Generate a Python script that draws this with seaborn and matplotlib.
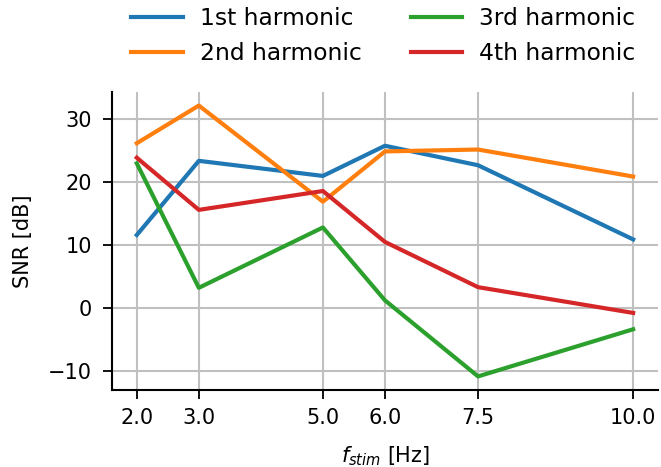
import pandas as pd
import matplotlib
matplotlib.use("Agg")
import matplotlib.pyplot as plt
import seaborn as sns

f_stim = [2.0, 3.0, 5.0, 6.0, 7.5, 10.0]
snr_1st = [11.6, 23.4, 21.0, 25.8, 22.7, 10.9]
snr_2nd = [26.2, 32.2, 16.9, 24.9, 25.2, 20.9]
snr_3rd = [23.0, 3.2, 12.8, 1.2, -10.9, -3.4]
snr_4th = [23.9, 15.6, 18.6, 10.5, 3.3, -0.8]
labels = ["1st harmonic", "2nd harmonic", "3rd harmonic", "4th harmonic"]


def main():
    rows = []
    for lab, vals in zip(labels, [snr_1st, snr_2nd, snr_3rd, snr_4th]):
        for f, v in zip(f_stim, vals):
            rows.append({"f": f, "snr": v, "harmonic": lab})
    df = pd.DataFrame(rows)

    plt.rcParams["font.size"] = 15
    fig = plt.figure(figsize=(6.61, 4.67), dpi=100)
    ax = fig.add_axes([0.1694, 0.165, 0.826, 0.638])

    sns.lineplot(data=df, x="f", y="snr", hue="harmonic", hue_order=labels,
                 palette="tab10", linewidth=3.0, ax=ax, legend=False)

    ax.set_xticks(f_stim)
    ax.set_xticklabels([f"{f:.1f}" for f in f_stim])
    ax.set_yticks([-10, 0, 10, 20, 30])
    ax.grid(True, color="#c0c0c0", linewidth=1.5)
    ax.set_axisbelow(True)
    for s in ["top", "right"]:
        ax.spines[s].set_visible(False)
    for s in ["left", "bottom"]:
        ax.spines[s].set_linewidth(1.5)
    ax.tick_params(length=6.5, width=1.3)
    ax.tick_params(axis="x", pad=6.5)
    ax.tick_params(axis="y", pad=8)
    ax.set_xlabel(r"$f_{stim}$ [Hz]", labelpad=12)
    ax.set_ylabel("SNR [dB]", labelpad=10.5)

    handles = ax.get_lines()[:4]
    fig.legend(handles, labels, ncol=2, frameon=False, fontsize=16.8,
               loc="upper left", bbox_to_anchor=(0.167, 1.03),
               handlelength=2.2, handletextpad=0.73, columnspacing=2.1,
               labelspacing=0.51)

    fig.savefig("out.png", dpi=100)


main()
